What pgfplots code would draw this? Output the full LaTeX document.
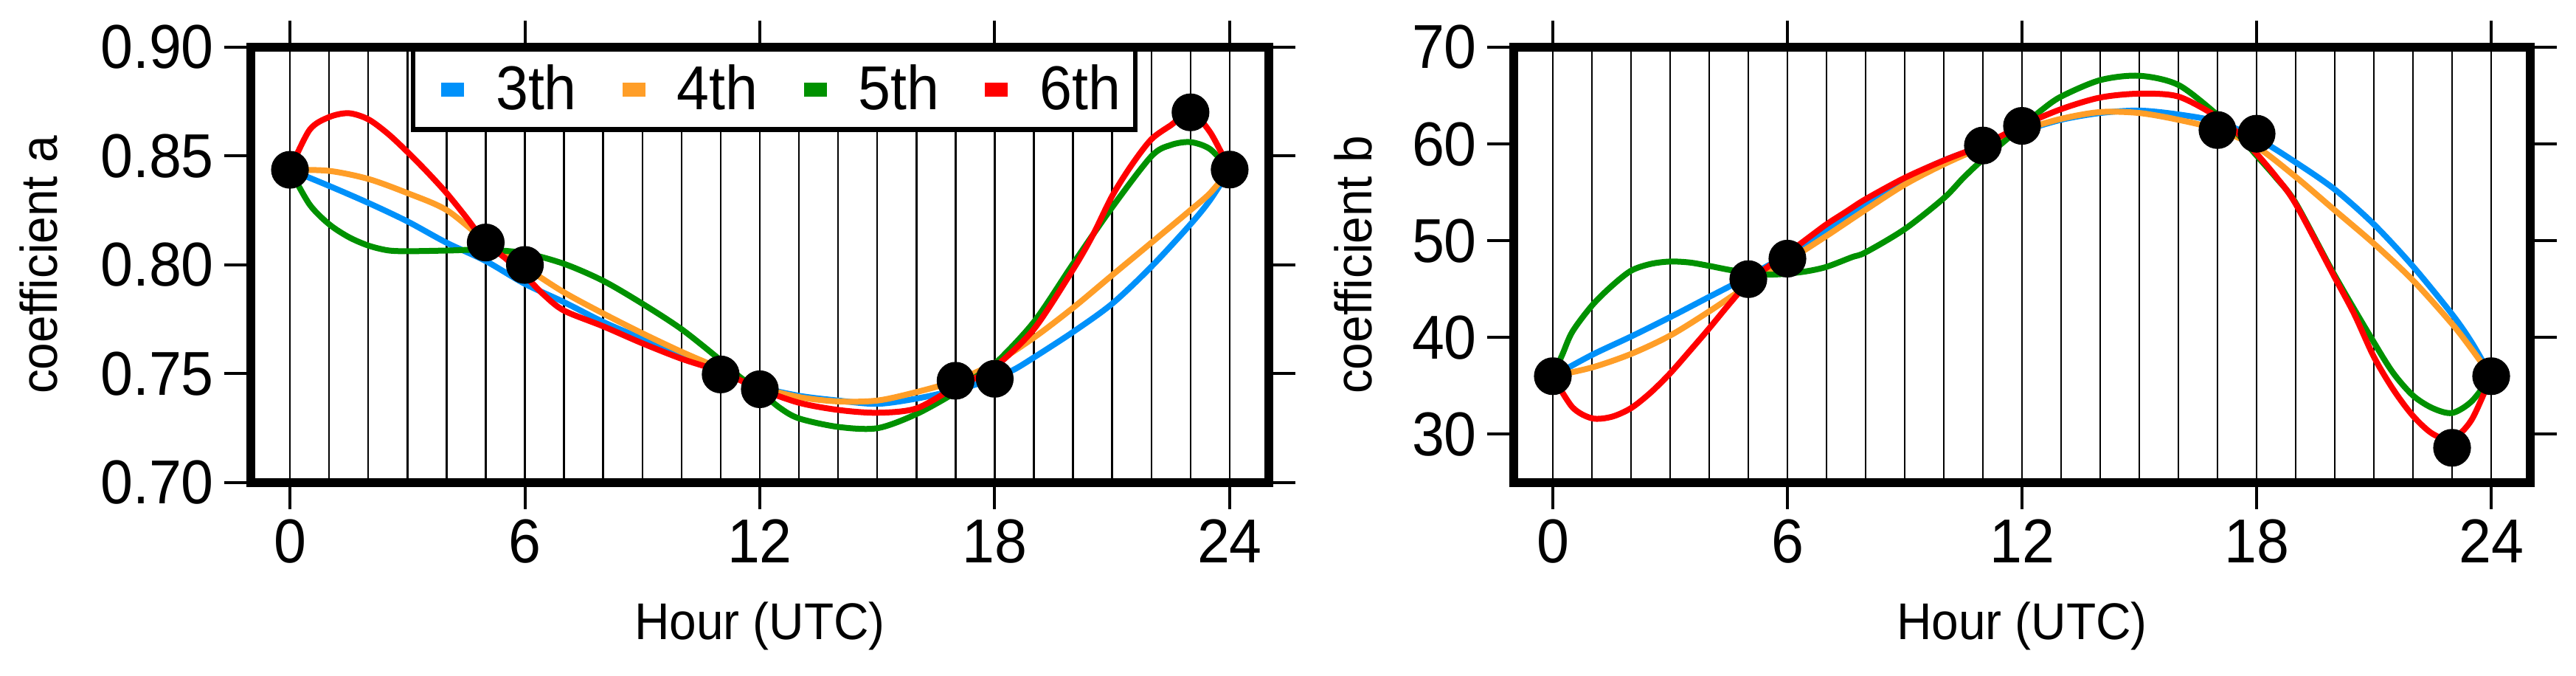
\documentclass[border=0pt]{standalone}
\usepackage{fontspec}
\setmainfont{Liberation Sans}[FakeStretch=0.94]
\usepackage{pgfplots}
\pgfplotsset{compat=1.18}

\definecolor{cblue}{RGB}{0,145,250}
\definecolor{corange}{RGB}{255,158,40}
\definecolor{cgreen}{RGB}{0,145,0}
\definecolor{cred}{RGB}{255,0,0}

\newcommand{\legsq}[1]{\fill[#1,draw=none] (6.5pt,-2.4pt) rectangle (14.25pt,2.4pt);
  \path[draw=none,fill=none] (0pt,0pt) -- (23pt,0pt);}

\pgfplotsset{
  mystyle/.style={
    scale only axis,
    height=147.5pt,
    xmin=-1, xmax=25,
    xtick={0,6,12,18,24},
    minor xtick={0,1,...,24},
    xmajorgrids, xminorgrids,
    major grid style={line width=0.6pt, black},
    minor grid style={line width=0.6pt, black},
    minor tick length=0pt,
    major tick length=9pt,
    tick align=outside,
    tick style={line width=1pt, black},
    axis line style={line width=2.8pt, line cap=rect},
    tick label style={font=\fontsize{21}{25}\selectfont},
    label style={font=\fontsize{17.5}{21}\selectfont},
    /pgf/number format/assume math mode=true,
    xlabel={Hour (UTC)},
    xlabel style={at={(axis description cs:0.5,-0.361)}, anchor=base},
  },
  curve/.style={line width=2pt, smooth, no markers},
  dots/.style={only marks, mark=*, mark size=6.2pt, black, forget plot},
}

\begin{document}
\begin{tikzpicture}
\path[use as bounding box] (-85pt,-65.5pt) rectangle (788pt,163.5pt);

% ---------------- coefficient a ----------------
\begin{axis}[mystyle, width=345pt,
  at={(0pt,0pt)}, anchor=south west,
  ymin=0.70, ymax=0.90,
  ytick={0.70,0.75,0.80,0.85,0.90},
  yticklabel style={/pgf/number format/.cd, fixed, fixed zerofill, precision=2},
  ylabel={coefficient a},
  ylabel style={at={(axis description cs:-0.190,0.5)}, anchor=base, rotate=0},
  legend columns=4,
  legend style={at={(axis description cs:0.1572,1)}, anchor=north west,
    draw=black, line width=1.6pt, font=\fontsize{21}{25}\selectfont,
    inner ysep=3.2pt,
    /tikz/every even column/.append style={column sep=7pt}},
  legend cell align=left,
]
\addplot[curve, cblue, legend image code/.code={\legsq{cblue}}] coordinates {
(0,0.8437)(1,0.8363)(2,0.8285)(3,0.8200)(4,0.8102)(5,0.8018)(6,0.7913)(7,0.7829)
(8,0.7738)(9,0.7660)(10,0.7575)(11,0.7510)(12,0.7440)(13,0.7399)(14,0.7377)(15,0.7362)
(16,0.7386)(17,0.7425)(17.5,0.7450)(18,0.7480)(18.5,0.7520)(19,0.7575)(20,0.7692)(21,0.7822)
(22,0.7992)(23,0.8187)(23.5,0.8298)(24,0.8438)};
\addlegendentry{3th}
\addplot[curve, corange, legend image code/.code={\legsq{corange}}] coordinates {
(0,0.8437)(1,0.8432)(2,0.8395)(3,0.8330)(4,0.8252)(5,0.8110)(6,0.7990)(7,0.7874)
(8,0.7777)(9,0.7686)(10,0.7601)(11,0.7523)(12,0.7440)(13,0.7393)(14,0.7373)(15,0.7377)
(16,0.7416)(17,0.7468)(18,0.7549)(19,0.7666)(20,0.7803)(21,0.7953)(22,0.8102)(23,0.8252)
(23.5,0.8330)(24,0.8438)};
\addlegendentry{4th}
\addplot[curve, cgreen, legend image code/.code={\legsq{cgreen}}] coordinates {
(0,0.8437)(0.5,0.8278)(1,0.8187)(1.5,0.8128)(2,0.8089)(2.5,0.8067)(3,0.8063)(4,0.8066)
(5,0.8070)(6,0.8054)(7,0.8005)(8,0.7927)(9,0.7822)(10,0.7705)(11,0.7562)(11.5,0.7484)
(12,0.7420)(12.5,0.7345)(13,0.7295)(14,0.7256)(15,0.7250)(16,0.7315)(17,0.7415)(17.5,0.7484)
(18,0.7545)(19,0.7738)(20,0.8005)(21,0.8265)(22,0.8499)(22.5,0.8551)(23,0.8564)(23.5,0.8532)
(24,0.8438)};
\addlegendentry{5th}
\addplot[curve, cred, legend image code/.code={\legsq{cred}}] coordinates {
(0,0.8437)(0.5,0.8620)(1,0.8679)(1.5,0.8697)(2,0.8669)(2.5,0.8603)(3,0.8519)(3.5,0.8428)
(4,0.8330)(4.5,0.8219)(5,0.8102)(5.5,0.8031)(6,0.7950)(6.5,0.7860)(7,0.7790)(8,0.7718)
(9,0.7640)(10,0.7569)(11,0.7510)(12,0.7430)(13,0.7367)(14,0.7334)(15,0.7321)(16,0.7341)
(17,0.7440)(17.5,0.7480)(18,0.7530)(19,0.7705)(20,0.7979)(20.5,0.8135)(21,0.8317)(21.5,0.8460)
(22,0.8577)(22.5,0.8642)(23,0.8701)(23.5,0.8610)(24,0.8438)};
\addlegendentry{6th}
\addplot[dots] coordinates {
(0,0.8437)(5,0.8103)(6,0.8000)(11,0.7497)(12,0.7429)(17,0.7468)(18,0.7477)(23,0.8701)(24,0.8438)};
\end{axis}

% ---------------- coefficient b ----------------
\begin{axis}[mystyle, width=344.5pt,
  at={(428pt,0pt)}, anchor=south west,
  ymin=25, ymax=70,
  ytick={30,40,50,60,70},
  ylabel={coefficient b},
  ylabel style={at={(axis description cs:-0.140,0.5)}, anchor=base, rotate=0},
]
\addplot[curve, cblue] coordinates {
(0,36.0)(1,38.2)(2,40.1)(3,42.1)(4,44.2)(5,46.3)(6,48.6)(7,51.2)(8,53.9)(9,56.4)
(10,58.3)(11,59.8)(12,61.3)(13,62.5)(14,63.2)(15,63.45)(16,63.05)(17,62.3)(18,60.6)
(19,58.1)(20,55.3)(21,51.7)(22,47.35)(23,42.4)(23.5,39.5)(24,36.0)};
\addplot[curve, corange] coordinates {
(0,36.0)(1,36.9)(2,38.3)(3,40.2)(4,42.7)(5,45.4)(6,47.9)(7,50.5)(8,53.2)(9,55.8)
(10,57.9)(11,59.7)(12,61.4)(13,62.6)(14,63.3)(15,63.2)(16,62.5)(17,61.5)(18,59.7)
(19,56.6)(20,53.15)(21,49.7)(22,45.9)(23,41.4)(23.5,38.8)(24,36.0)};
\addplot[curve, cgreen] coordinates {
(0,36.0)(0.25,38.3)(0.5,40.6)(1,43.3)(1.5,45.3)(2,46.9)(2.5,47.6)(3,47.85)(3.5,47.75)
(4,47.4)(4.5,47.0)(5,46.7)(5.5,46.5)(6,46.6)(6.5,46.85)(7,47.3)(7.65,48.3)(8,48.8)
(9,51.2)(10,54.4)(10.5,56.5)(11,58.4)(12,61.8)(12.5,63.5)(13,64.9)(14,66.6)(15,67.05)
(16,66.1)(17,63.0)(17.5,61.1)(18,58.8)(18.5,56.5)(19,53.9)(20,46.4)(21,39.5)(21.5,36.3)
(22,34.0)(22.5,32.7)(23,32.2)(23.5,33.4)(24,36.0)};
\addplot[curve, cred] coordinates {
(0,36.0)(0.5,32.8)(1,31.65)(1.5,31.8)(2,32.7)(2.5,34.3)(3,36.3)(3.5,38.6)(4,40.95)
(4.5,43.4)(5,45.7)(5.5,47.3)(6,48.7)(6.5,50.2)(7,51.7)(7.5,53.0)(8,54.3)(9,56.5)
(10,58.3)(11,59.9)(12,61.9)(13,63.6)(14,64.8)(15,65.2)(16,64.9)(17,62.8)(17.5,61.2)
(18,59.0)(18.5,56.6)(19,53.8)(20,46.2)(20.5,42.4)(21,38.0)(21.5,34.6)(22,31.9)
(22.5,30.05)(23,29.5)(23.5,31.5)(24,36.0)};
\addplot[dots] coordinates {
(0,36.0)(5,46.03)(6,48.15)(11,59.84)(12,61.87)(17,61.44)(18,61.06)(23,28.6)(24,36.0)};
\end{axis}
\end{tikzpicture}
\end{document}
